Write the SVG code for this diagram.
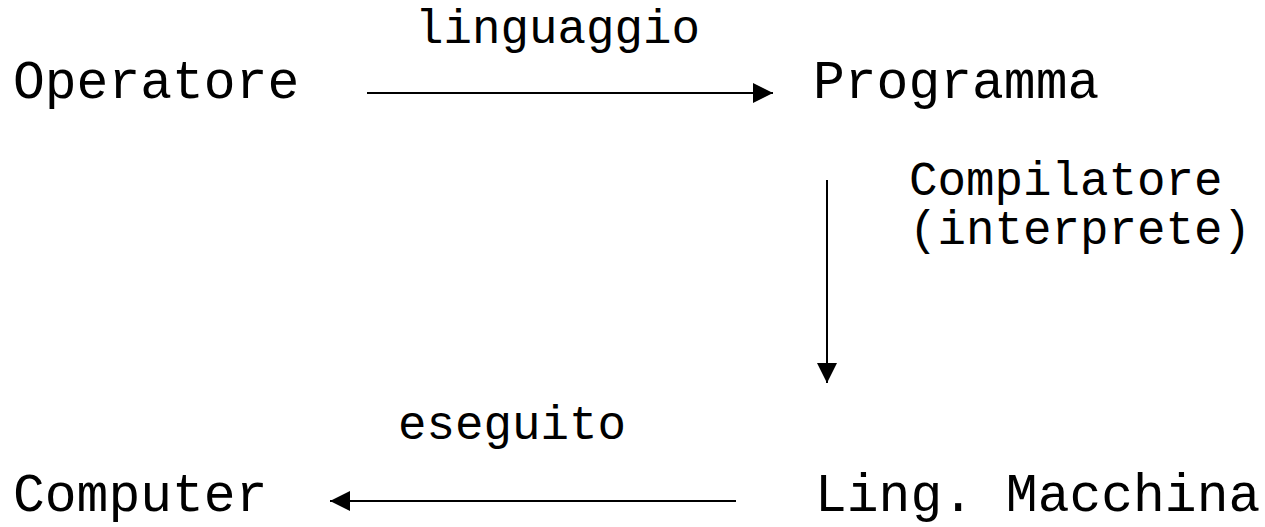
<svg xmlns="http://www.w3.org/2000/svg" width="1265" height="527" viewBox="0 0 1265 527">
<style>
.n{font-family:"Liberation Mono","Courier New",monospace;font-size:53px;fill:#000}
.l{font-family:"Liberation Mono","Courier New",monospace;font-size:47.5px;fill:#000}
.c{stroke:#000;stroke-width:2;fill:none}
</style>
<defs>
<marker id="ah" viewBox="0 0 20 20" refX="20" refY="10" markerWidth="20" markerHeight="20" markerUnits="userSpaceOnUse" orient="auto">
<path d="M0,0 L20,10 L0,20 Z" fill="#000"/>
</marker>
</defs>
<rect width="1265" height="527" fill="#fff"/>
<g id="operatore"><text class="n" x="13" y="98">Operatore</text></g>
<g id="programma"><text class="n" x="813" y="98">Programma</text></g>
<g id="ling-macchina"><text class="n" x="815" y="511">Ling. Macchina</text></g>
<g id="computer"><text class="n" x="13" y="511">Computer</text></g>
<g id="connectors">
<line class="c" x1="367" y1="93" x2="773" y2="93" marker-end="url(#ah)"/>
<text class="l" x="415" y="43">linguaggio</text>
<line class="c" x1="827" y1="180" x2="827" y2="383" marker-end="url(#ah)"/>
<text class="l" x="909" y="195">Compilatore</text>
<text class="l" x="909" y="244">(interprete)</text>
<line class="c" x1="736" y1="501" x2="330" y2="501" marker-end="url(#ah)"/>
<text class="l" x="398" y="439">eseguito</text>
</g>
</svg>
